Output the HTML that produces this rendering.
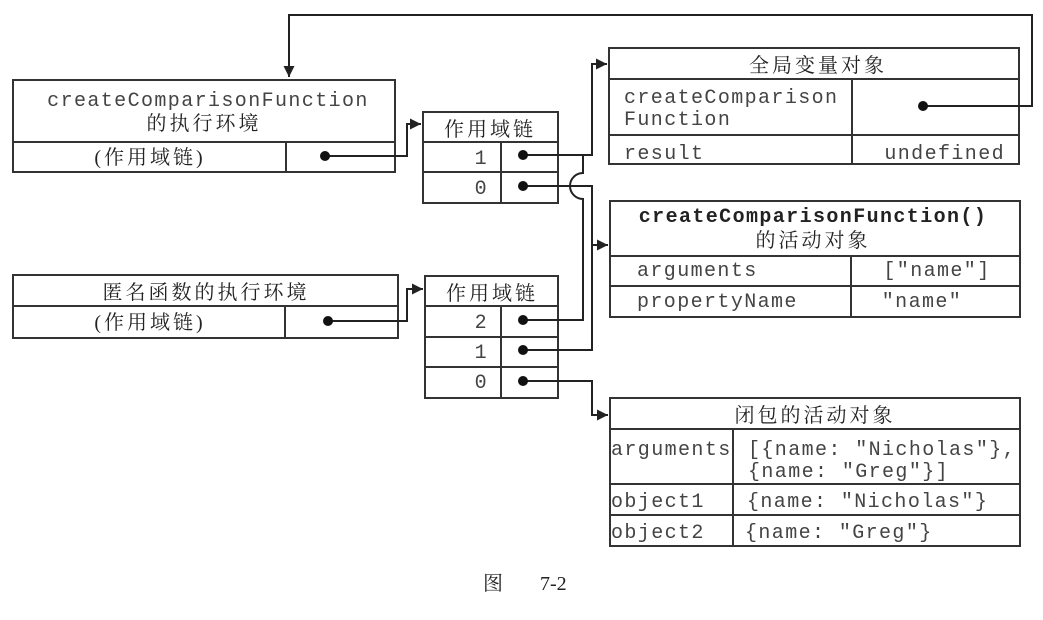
<!DOCTYPE html>
<html><head><meta charset="utf-8"><style>
html,body{margin:0;padding:0;background:#fff;}
svg{display:block;}
.m{font-family:"Liberation Mono",monospace;font-size:20px;letter-spacing:1.4px;fill:#444;}
.b{font-family:"Liberation Mono",monospace;font-size:20px;letter-spacing:1.4px;font-weight:bold;fill:#222;}
.c{font-family:"Liberation Serif","Noto Serif CJK SC",serif;font-size:20px;letter-spacing:3px;fill:#222;}
</style></head><body>
<svg width="1043" height="620" viewBox="0 0 1043 620" xmlns="http://www.w3.org/2000/svg">
<defs>
<marker id="ar" viewBox="0 0 10 10" refX="10" refY="5" markerWidth="11" markerHeight="11" markerUnits="userSpaceOnUse" orient="auto">
<path d="M0,0 L10,5 L0,10 z" fill="#222"/></marker>
</defs>
<g fill="none" stroke="#333" stroke-width="2">
<rect x="13" y="80" width="382" height="92"/>
<line x1="13" y1="142" x2="395" y2="142"/>
<line x1="286" y1="142" x2="286" y2="172"/>
<rect x="423" y="112" width="135" height="91"/>
<line x1="423" y1="142" x2="558" y2="142"/>
<line x1="423" y1="172" x2="558" y2="172"/>
<line x1="501" y1="142" x2="501" y2="203"/>
<rect x="13" y="275" width="385" height="63"/>
<line x1="13" y1="306" x2="398" y2="306"/>
<line x1="285" y1="306" x2="285" y2="338"/>
<rect x="425" y="276" width="133" height="122"/>
<line x1="425" y1="306" x2="558" y2="306"/>
<line x1="425" y1="337" x2="558" y2="337"/>
<line x1="425" y1="367" x2="558" y2="367"/>
<line x1="501" y1="306" x2="501" y2="398"/>
<rect x="609" y="48" width="410" height="116"/>
<line x1="609" y1="79" x2="1019" y2="79"/>
<line x1="609" y1="135" x2="1019" y2="135"/>
<line x1="852" y1="79" x2="852" y2="164"/>
<rect x="610" y="201" width="410" height="116"/>
<line x1="610" y1="256" x2="1020" y2="256"/>
<line x1="610" y1="286" x2="1020" y2="286"/>
<line x1="851" y1="256" x2="851" y2="317"/>
<rect x="610" y="398" width="410" height="148"/>
<line x1="610" y1="429" x2="1020" y2="429"/>
<line x1="610" y1="484" x2="1020" y2="484"/>
<line x1="610" y1="515" x2="1020" y2="515"/>
<line x1="733" y1="429" x2="733" y2="546"/>
</g>
<g fill="none" stroke="#222" stroke-width="2">
<polyline points="325,156 407,156 407,124 421,124" marker-end="url(#ar)"/>
<polyline points="328,321 407,321 407,289 423,289" marker-end="url(#ar)"/>
<polyline points="523,155 592,155 592,64 607,64" marker-end="url(#ar)"/>
<path d="M583,155 L583,173 A13,13 0 0 0 583,199 L583,320 L523,320"/>
<polyline points="523,186 592,186 592,350 523,350"/>
<polyline points="592,245 608,245" marker-end="url(#ar)"/>
<polyline points="523,381 592,381 592,415 608,415" marker-end="url(#ar)"/>
<polyline points="923,106 1032,106 1032,15 289,15 289,77" marker-end="url(#ar)"/>
</g>
<g fill="#111">
<circle cx="325" cy="156" r="5"/><circle cx="328" cy="321" r="5"/>
<circle cx="523" cy="155" r="5"/><circle cx="523" cy="186" r="5"/>
<circle cx="523" cy="320" r="5"/><circle cx="523" cy="350" r="5"/><circle cx="523" cy="381" r="5"/>
<circle cx="923" cy="106" r="5"/>
</g>
<text class="m" x="208" y="106" text-anchor="middle">createComparisonFunction</text>
<text class="c" x="204" y="130" text-anchor="middle">的执行环境</text>
<text class="c" x="150" y="164" text-anchor="middle">(作用域链)</text>
<text class="c" x="490" y="136" text-anchor="middle">作用域链</text>
<text class="m" x="488" y="164" text-anchor="end">1</text>
<text class="m" x="488" y="194" text-anchor="end">0</text>
<text class="c" x="206" y="299" text-anchor="middle">匿名函数的执行环境</text>
<text class="c" x="150" y="329" text-anchor="middle">(作用域链)</text>
<text class="c" x="492" y="300" text-anchor="middle">作用域链</text>
<text class="m" x="488" y="328" text-anchor="end">2</text>
<text class="m" x="488" y="358" text-anchor="end">1</text>
<text class="m" x="488" y="388" text-anchor="end">0</text>
<text class="c" x="818" y="72" text-anchor="middle">全局变量对象</text>
<text class="m" x="624" y="103">createComparison</text>
<text class="m" x="624" y="125">Function</text>
<text class="m" x="624" y="159">result</text>
<text class="m" x="1005" y="159" text-anchor="end">undefined</text>
<text class="b" x="813" y="222" text-anchor="middle">createComparisonFunction()</text>
<text class="c" x="813" y="247" text-anchor="middle">的活动对象</text>
<text class="m" x="637" y="276">arguments</text>
<text class="m" x="937" y="276" text-anchor="middle">["name"]</text>
<text class="m" x="922" y="307" text-anchor="middle">"name"</text>
<text class="m" x="637" y="307">propertyName</text>
<text class="c" x="815" y="422" text-anchor="middle">闭包的活动对象</text>
<text class="m" x="611" y="455">arguments</text>
<text class="m" x="748" y="455">[{name: "Nicholas"},</text>
<text class="m" x="748" y="477">{name: "Greg"}]</text>
<text class="m" x="611" y="507">object1</text>
<text class="m" x="747" y="507">{name: "Nicholas"}</text>
<text class="m" x="611" y="538">object2</text>
<text class="m" x="745" y="538">{name: "Greg"}</text>
<text style="font-family:'Liberation Serif','Noto Serif CJK SC',serif;font-size:20px;fill:#222" x="483" y="590">图</text>
<text style="font-family:'Liberation Serif',serif;font-size:20px;fill:#222" x="540" y="590">7-2</text>
</svg>
</body></html>
